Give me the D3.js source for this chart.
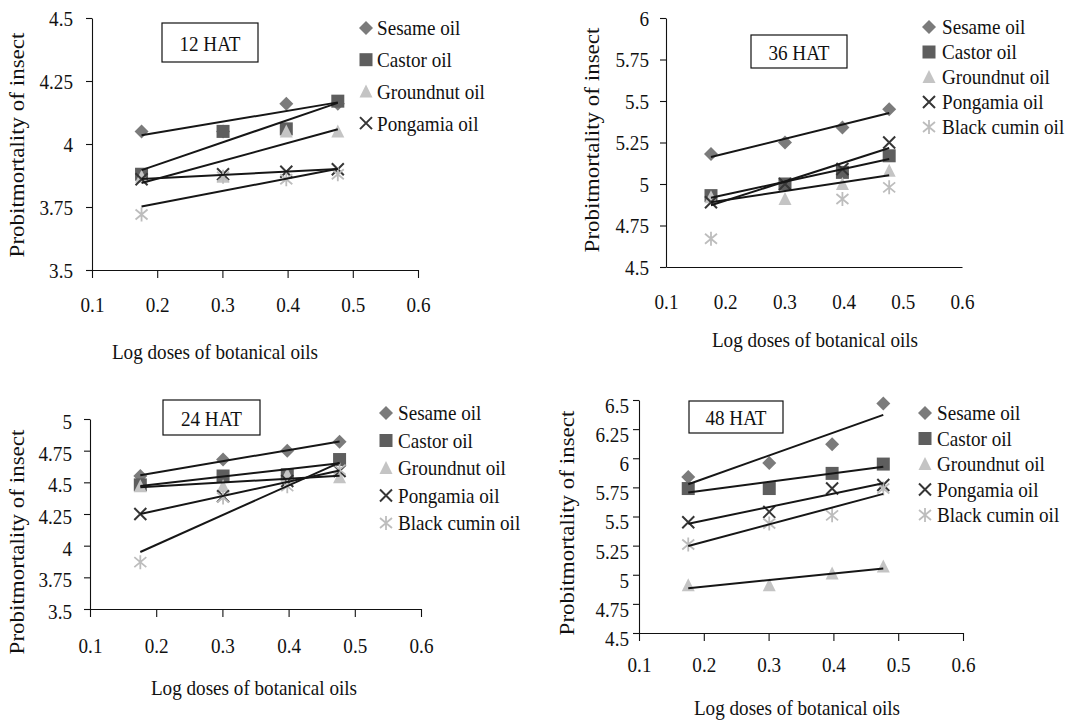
<!DOCTYPE html>
<html>
<head>
<meta charset="utf-8">
<script src="https://cdn.jsdelivr.net/npm/d3@7"></script>
<style>
  html, body { margin: 0; padding: 0; background: #fff; }
  svg { display: block; }
  text { font-family: "Liberation Serif", "Times New Roman", serif; fill: #111; }
</style>
</head>
<body>
<svg id="chart" width="1080" height="722"></svg>
<script>
"use strict";
// log doses of the oils (x values)
const doses = [0.176, 0.301, 0.398, 0.477];
const oils = ["Sesame oil", "Castor oil", "Groundnut oil", "Pongamia oil", "Black cumin oil"];
const xTicks = [0.1, 0.2, 0.3, 0.4, 0.5, 0.6];

// probit mortality per oil (rows follow `oils`)
const values12 = [
    [4.05, 4.05, 4.16, 4.16],
    [3.88, 4.05, 4.06, 4.17],
    [3.87, 3.87, 4.05, 4.05],
    [3.86, 3.88, 3.89, 3.90],
    [3.72, 3.87, 3.86, 3.88]
];
const values36 = [
    [5.18, 5.25, 5.34, 5.45],
    [4.93, 5.00, 5.07, 5.17],
    [4.92, 4.91, 5.00, 5.08],
    [4.89, 5.00, 5.09, 5.25],
    [4.67, null, 4.91, 4.98]
];
const values24 = [
    [4.55, 4.68, 4.75, 4.82],
    [4.48, 4.55, 4.56, 4.68],
    [4.47, 4.47, 4.56, 4.54],
    [4.25, 4.39, 4.51, 4.59],
    [3.87, 4.38, 4.47, 4.60]
];
const values48 = [
    [5.84, 5.96, 6.12, 6.47],
    [5.74, 5.74, 5.87, 5.95],
    [4.91, 4.91, 5.01, 5.07],
    [5.45, 5.54, 5.74, 5.77],
    [5.26, 5.44, 5.51, 5.74]
];
const yTicks12 = [3.5, 3.75, 4, 4.25, 4.5];
const yTicks36 = [4.5, 4.75, 5, 5.25, 5.5, 5.75, 6];
const yTicks24 = [3.5, 3.75, 4, 4.25, 4.5, 4.75, 5];
const yTicks48 = [4.5, 4.75, 5, 5.25, 5.5, 5.75, 6, 6.25, 6.5];
// which series get a trend line
const trend12 = [true, true, true, true, true];
const trend36 = [true, true, true, true, false];
const trend24 = [true, true, true, true, true];
const trend48 = [true, true, true, true, true];
const legend12 = oils.slice(0, 4);
const legend36 = oils;
const legend24 = oils;
const legend48 = oils;

const SX = 0.87;          // the original figure is squeezed horizontally
const FS = 22;
const colors = ["#7b7b7b", "#5e5e5e", "#c4c4c4", "#363636", "#bdbdbd"];

function marker(g, i, cx, cy) {
    let c = colors[i];
    if (i === 0) {
        g.append("path").attr("d", `M${cx},${cy - 7}L${cx + 7},${cy}L${cx},${cy + 7}L${cx - 7},${cy}Z`).attr("fill", c);
    } else if (i === 1) {
        g.append("rect").attr("x", cx - 6.5).attr("y", cy - 6.5).attr("width", 13).attr("height", 13).attr("fill", c);
    } else if (i === 2) {
        g.append("path").attr("d", `M${cx},${cy - 7}L${cx + 6.5},${cy + 6}L${cx - 6.5},${cy + 6}Z`).attr("fill", c);
    } else if (i === 3) {
        g.append("path").attr("d", `M${cx - 6},${cy - 6}L${cx + 6},${cy + 6}M${cx - 6},${cy + 6}L${cx + 6},${cy - 6}`)
            .attr("stroke", c).attr("stroke-width", 2).attr("fill", "none");
    } else {
        g.append("path").attr("d", `M${cx},${cy - 7}L${cx},${cy + 7}M${cx - 6},${cy - 5}L${cx + 6},${cy + 5}M${cx - 6},${cy + 5}L${cx + 6},${cy - 5}`)
            .attr("stroke", c).attr("stroke-width", 1.8).attr("fill", "none");
    }
}

function label(g, txt, cx, cy, anchor) {
    return g.append("text")
        .attr("transform", `translate(${cx},${cy}) scale(${SX},1)`)
        .attr("text-anchor", anchor || "middle")
        .attr("dominant-baseline", "central")
        .attr("font-size", FS)
        .text(txt);
}

function fit(xs, ys) {
    let pts = xs.map((x, i) => [x, ys[i]]).filter(p => p[1] != null);
    let mx = d3.mean(pts, p => p[0]), my = d3.mean(pts, p => p[1]);
    let sxy = d3.sum(pts, p => (p[0] - mx) * (p[1] - my));
    let sxx = d3.sum(pts, p => (p[0] - mx) * (p[0] - mx));
    let b = sxy / sxx;
    return x => my + b * (x - mx);
}

function drawPanel(svg, p) {
    let g = svg.append("g");
    let x = d3.scaleLinear().domain([0.1, 0.6]).range([p.x0, p.x1]);
    let y = d3.scaleLinear().domain(d3.extent(p.yTicks)).range([p.y0, p.y1]);

    let gy = g.append("g")
        .attr("transform", `translate(${p.x0},0)`)
        .call(d3.axisLeft(y).tickValues(p.yTicks).tickSize(6).tickSizeOuter(0).tickFormat(d3.format("")));
    gy.selectAll("text").attr("x", null).attr("dy", null)
        .attr("transform", `translate(${-p.yPad},${p.yShift}) scale(${SX},1)`)
        .attr("dominant-baseline", "central").attr("font-size", FS)
        .attr("font-family", null).attr("fill", null);

    let gx = g.append("g")
        .attr("transform", `translate(0,${p.y0})`)
        .call(d3.axisBottom(x).tickValues(xTicks).tickSize(p.xTickSize).tickSizeOuter(0).tickFormat(d3.format("")));
    gx.selectAll("text").attr("y", null).attr("dy", null)
        .attr("transform", `translate(0,${p.xLabelY - p.y0}) scale(${SX},1)`)
        .attr("dominant-baseline", "central").attr("font-size", FS)
        .attr("font-family", null).attr("fill", null);
    g.selectAll(".domain, .tick line").attr("stroke", "#111").attr("stroke-width", 1.1);

    // markers
    p.values.forEach((row, i) => {
        row.forEach((v, j) => {
            if (v != null) marker(g, i, x(doses[j]), y(v));
        });
    });
    // trend lines
    p.values.forEach((row, i) => {
        if (!p.trend[i]) return;
        let f = fit(doses, row);
        let x0 = d3.min(doses), x1 = d3.max(doses);
        g.append("line")
            .attr("x1", x(x0)).attr("y1", y(f(x0)))
            .attr("x2", x(x1)).attr("y2", y(f(x1)))
            .attr("stroke", "#161616").attr("stroke-width", 2);
    });

    // title box
    g.append("rect").attr("x", p.box[0]).attr("y", p.box[1])
        .attr("width", p.box[2] - p.box[0]).attr("height", p.box[3] - p.box[1])
        .attr("fill", "#fff").attr("stroke", "#111").attr("stroke-width", 1.2);
    label(g, p.title, (p.box[0] + p.box[2]) / 2, (p.box[1] + p.box[3]) / 2 + 1);

    // axis titles
    label(g, "Log doses of botanical oils", p.xTitle[0], p.xTitle[1]);
    g.append("text")
        .attr("transform", `translate(${p.yTitle[0]},${p.yTitle[1]}) rotate(-90) scale(1,${SX})`)
        .attr("text-anchor", "middle").attr("dominant-baseline", "central")
        .attr("font-size", 23)
        .text("Probitmortality of insect");

    // legend
    p.legend.forEach((name, i) => {
        let ly = p.legendY[0] + i * p.legendY[1];
        marker(g, i, p.legendX[0], ly);
        label(g, name, p.legendX[1], ly, "start");
    });
}

const svg = d3.select("#chart");
drawPanel(svg, {
    title: "12 HAT", values: values12, trend: trend12, legend: legend12, yTicks: yTicks12,
    x0: 92, x1: 418, y0: 270, y1: 18, yPad: 19, yShift: 0, xTickSize: 8, xLabelY: 305,
    xTitle: [215, 352], yTitle: [18, 145], box: [162, 23, 258, 62],
    legendX: [366, 377], legendY: [28, 31.7]
});
drawPanel(svg, {
    title: "36 HAT", values: values36, trend: trend36, legend: legend36, yTicks: yTicks36,
    x0: 666, x1: 962, y0: 267, y1: 18, yPad: 17, yShift: 0, xTickSize: 0, xLabelY: 302,
    xTitle: [815, 340], yTitle: [593, 140], box: [751, 35, 847, 68],
    legendX: [929, 942], legendY: [27, 25]
});
drawPanel(svg, {
    title: "24 HAT", values: values24, trend: trend24, legend: legend24, yTicks: yTicks24,
    x0: 90, x1: 421, y0: 609, y1: 419, yPad: 18, yShift: 2, xTickSize: 8, xLabelY: 646,
    xTitle: [254, 688], yTitle: [18, 542], box: [163, 400, 260, 435],
    legendX: [386, 398], legendY: [413, 27.5]
});
drawPanel(svg, {
    title: "48 HAT", values: values48, trend: trend48, legend: legend48, yTicks: yTicks48,
    x0: 639, x1: 963, y0: 633, y1: 400, yPad: 10, yShift: 5, xTickSize: 8, xLabelY: 665,
    xTitle: [797, 708], yTitle: [568, 523], box: [689, 401, 783, 433],
    legendX: [925, 937], legendY: [413, 25.5]
});
</script>
</body>
</html>
